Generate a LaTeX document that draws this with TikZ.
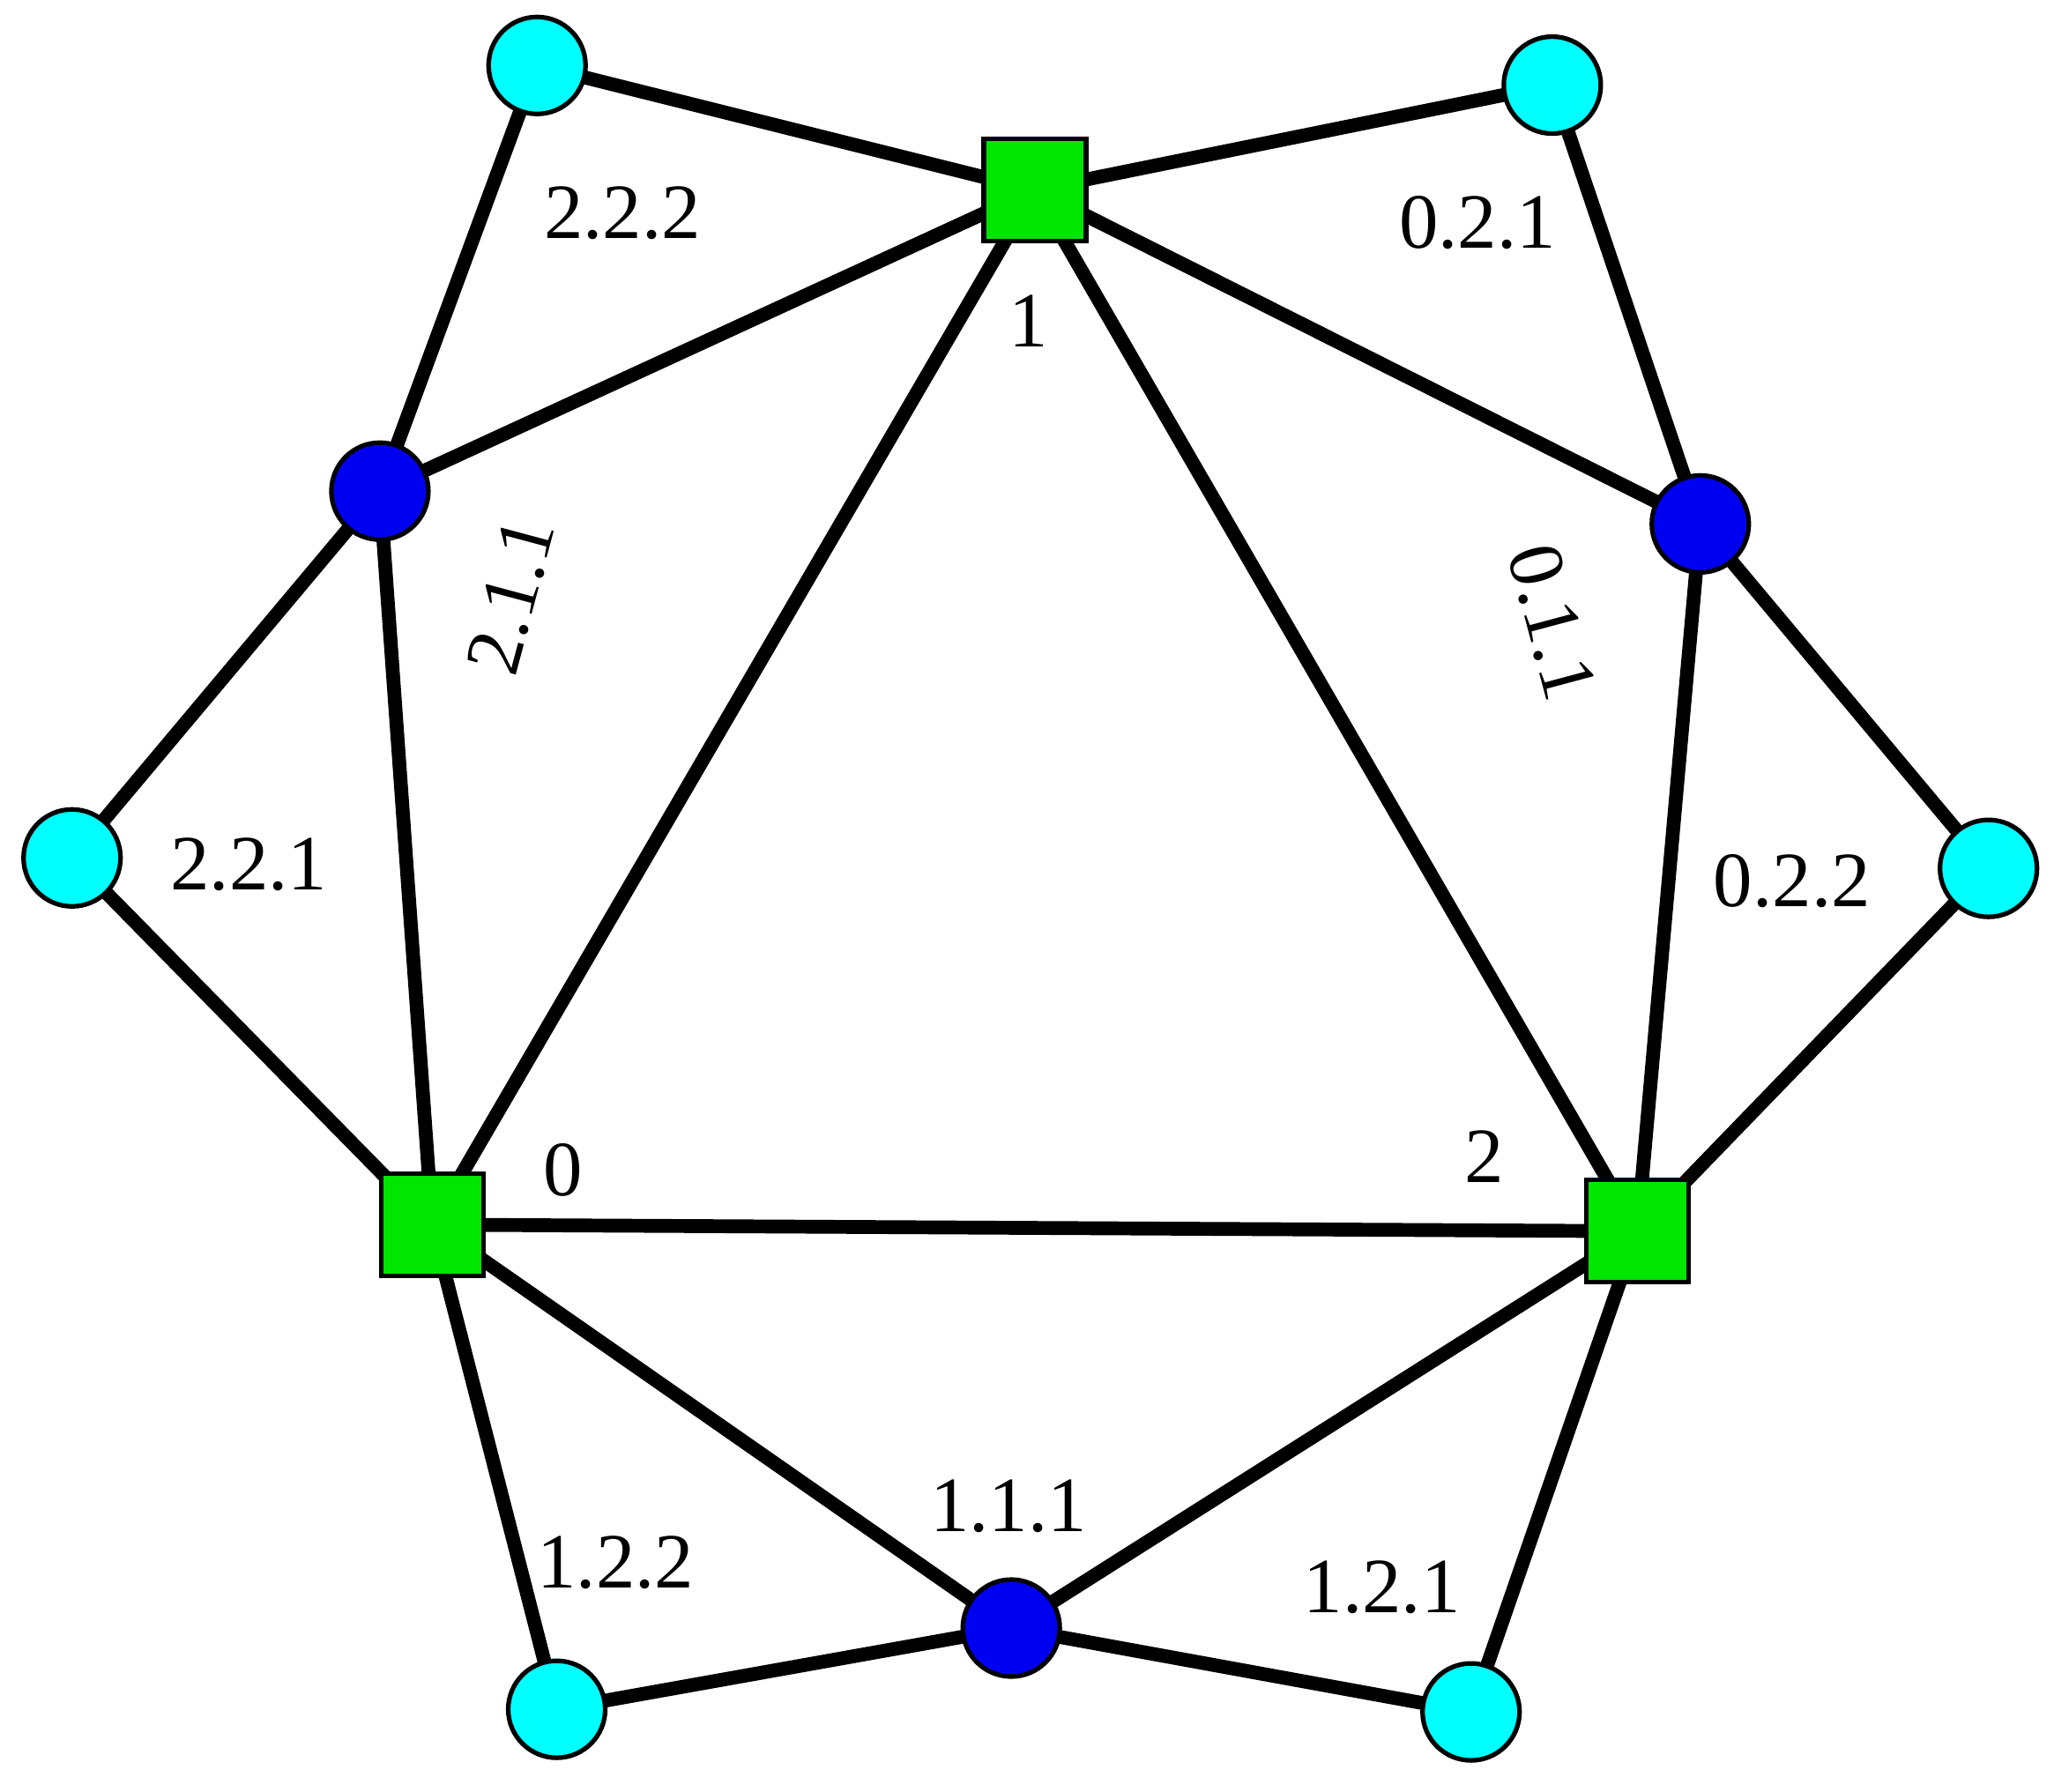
\documentclass[tikz,border=0pt]{standalone}
\usepackage{fontspec}
\setmainfont{Liberation Serif}
\newfontfamily\labfont{Liberation Serif}
\definecolor{mycyan}{RGB}{0,255,255}
\definecolor{myblue}{RGB}{0,0,240}
\definecolor{mygreen}{RGB}{0,230,0}
\pgfdeclarelayer{bg}
\pgfsetlayers{bg,main}
\begin{document}
\begin{tikzpicture}[x=0.01cm,y=-0.01cm,
  sq/.style={draw=black,line width=1pt,fill=mygreen,minimum size=0.78cm,inner sep=0pt},
  bl/.style={circle,draw=black,line width=1pt,fill=myblue,minimum size=0.74cm,inner sep=0pt},
  cy/.style={circle,draw=black,line width=1pt,fill=mycyan,minimum size=0.74cm,inner sep=0pt},
  ed/.style={line width=3pt},
  lb/.style={font=\labfont\fontsize{17}{20}\selectfont,inner sep=0pt}]
\useasboundingbox (0,0) rectangle (1568,1368);
\node[sq] (s1) at (790,145) {};
\node[sq] (s0) at (330,935) {};
\node[sq] (s2) at (1250,940) {};
\node[bl] (b2) at (290,375) {};
\node[bl] (b0) at (1298,400) {};
\node[bl] (b1) at (772,1243) {};
\node[cy] (c1) at (410,50) {};
\node[cy] (c2) at (1185,65) {};
\node[cy] (c3) at (55,655) {};
\node[cy] (c4) at (1518,663) {};
\node[cy] (c5) at (425,1305) {};
\node[cy] (c6) at (1123,1307) {};
\begin{pgfonlayer}{bg}
\draw[ed] (s1.center)--(c1.center) (s1.center)--(c2.center) (s1.center)--(b2.center) (s1.center)--(b0.center)
 (s1.center)--(s0.center) (s1.center)--(s2.center) (s0.center)--(s2.center)
 (b2.center)--(c1.center) (b2.center)--(c3.center) (b2.center)--(s0.center) (c3.center)--(s0.center)
 (b0.center)--(c2.center) (b0.center)--(c4.center) (b0.center)--(s2.center) (c4.center)--(s2.center)
 (s0.center)--(b1.center) (s2.center)--(b1.center) (s0.center)--(c5.center) (s2.center)--(c6.center)
 (b1.center)--(c5.center) (b1.center)--(c6.center);
\end{pgfonlayer}
\node[lb] (l1) at (475,163) {2.2.2};
\node[lb] (l2) at (1128,170) {0.2.1};
\node[lb] (l3) at (785,245) {1};
\node[lb,rotate=75] (l4) at (390,455) {2.1.1};
\node[lb,rotate=-75] (l5) at (1185,475) {0.1.1};
\node[lb] (l6) at (190,660) {2.2.1};
\node[lb] (l7) at (1368,673) {0.2.2};
\node[lb] (l8) at (430,893) {0};
\node[lb] (l9) at (1133,883) {2};
\node[lb] (l10) at (770,1150) {1.1.1};
\node[lb] (l11) at (470,1193) {1.2.2};
\node[lb] (l12) at (1055,1212) {1.2.1};
\end{tikzpicture}
\end{document}
